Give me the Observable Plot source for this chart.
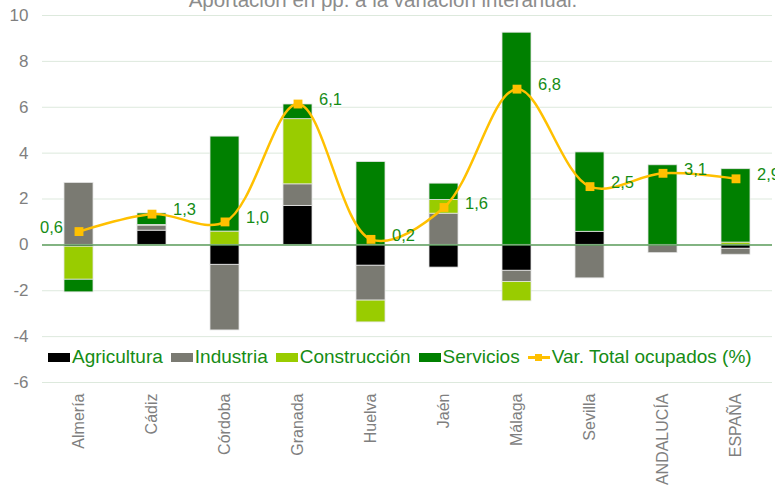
<!DOCTYPE html>
<html>
<head>
<meta charset="utf-8">
<script src="https://cdn.jsdelivr.net/npm/d3@7"></script>
<script src="https://cdn.jsdelivr.net/npm/@observablehq/plot@0.6"></script>
<style>
  html, body { margin: 0; padding: 0; background: #fff; }
  body { width: 775px; height: 487px; overflow: hidden; position: relative; font-family: "Liberation Sans", Arial, sans-serif; }
  #title { position: absolute; left: 0; top: -10px; width: 766px; text-align: center; font-size: 20.5px; color: #8c8c8c; line-height: 20px; z-index: 2; white-space: nowrap; }
  #legend { position: absolute; left: 48px; top: 346px; display: flex; align-items: center; font-size: 19px; color: #158c15; z-index: 2; white-space: nowrap; }
  #legend .item { display: flex; align-items: center; margin-right: 8px; }
  #legend .sw { width: 22px; height: 9px; margin-right: 2px; }
  #legend .ln { width: 22px; height: 9px; margin-right: 2px; position: relative; }
  #legend .ln::before { content: ""; position: absolute; left: 0; right: 0; top: 3px; height: 3px; background: #FFC000; }
  #legend .ln::after { content: ""; position: absolute; left: 7px; top: 1px; width: 7px; height: 7px; background: #FFC000; }
</style>
</head>
<body>
<div id="title">Aportación en pp. a la variación interanual.</div>
<div id="chart"></div>
<div id="legend"></div>
<script>
const categories = ["Almería", "Cádiz", "Córdoba", "Granada", "Huelva", "Jaén", "Málaga", "Sevilla", "ANDALUCÍA", "ESPAÑA"];
const sectors = ["Agricultura", "Industria", "Construcción", "Servicios"];
const agricultura  = [-0.08, 0.62, -0.87, 1.70, -0.91, -0.99, -1.13, 0.57, -0.02, -0.17];
const industria    = [ 2.70, 0.22, -2.86, 0.94, -1.52,  1.36, -0.49, -1.46, -0.34, -0.26];
const construccion = [-1.44, 0.03,  0.58, 2.84, -0.95,  0.60, -0.84,  0.00,  0.00,  0.10];
const servicios    = [-0.55, 0.50,  4.14, 0.64,  3.61,  0.71,  9.25,  3.46,  3.47,  3.20];
const varTotal     = [ 0.58, 1.34,  1.00, 6.14,  0.24,  1.63,  6.79,  2.54,  3.12,  2.88];
const yTicks = [-6, -4, -2, 0, 2, 4, 6, 8, 10];
const lineLabel = "Var. Total ocupados (%)";

const sectorColors = ["#000000", "#7a7a72", "#99cc00", "#008000"];
const seriesValues = [agricultura, industria, construccion, servicios];

const bars = [];
sectors.forEach((s, si) => {
  categories.forEach((c, ci) => {
    bars.push({ cat: c, sector: s, value: seriesValues[si][ci] });
  });
});
const totals = categories.map((c, i) => ({ cat: c, value: varTotal[i] }));
const fmt = v => d3.format(".1f")(v).replace(".", ",");
const green = "#158c15";
const font = "'Liberation Sans', Arial, sans-serif";

const chart = Plot.plot({
  width: 775,
  height: 487,
  marginTop: 15,
  marginBottom: 105,
  marginLeft: 42,
  marginRight: 3,
  style: { fontFamily: font, background: "white" },
  x: { domain: categories, paddingInner: 0.6, paddingOuter: 0.3, label: null },
  y: { domain: [-6, 10], label: null },
  color: { domain: sectors, range: sectorColors },
  marks: [
    Plot.ruleY(yTicks, { stroke: "#dde9dd", strokeWidth: 1 }),
    Plot.barY(bars, { x: "cat", y: "value", fill: "sector", stroke: "#e4e4e4", strokeWidth: 0.8 }),
    Plot.ruleY([0], { stroke: "#5e9e5e", strokeWidth: 1.5 }),
    Plot.line(totals, { x: "cat", y: "value", curve: "catmull-rom", stroke: "#FFC000", strokeWidth: 2.5 }),
    Plot.dot(totals, { x: "cat", y: "value", symbol: "square", r: 5, fill: "#FFC000", stroke: "none" }),
    Plot.text(totals, { filter: (d, i) => i > 0, x: "cat", y: "value", text: d => fmt(d.value), dx: 21, dy: -4, textAnchor: "start", fill: green, fontSize: 16.5 }),
    Plot.text(totals, { filter: (d, i) => i === 0, x: "cat", y: "value", text: d => fmt(d.value), dx: -16, dy: -4, textAnchor: "end", fill: green, fontSize: 16.5 }),
    Plot.axisY({ ticks: yTicks, tickSize: 0, tickPadding: 14, tickFormat: d => String(d), fontSize: 17, fill: "#7f7f7f", label: null }),
    Plot.axisX({ tickSize: 0, tickPadding: 11, tickRotate: -90, fontSize: 16, fill: "#7f7f7f", label: null })
  ]
});
document.getElementById("chart").appendChild(chart);

const legend = document.getElementById("legend");
sectors.forEach((s, i) => {
  const it = document.createElement("div");
  it.className = "item";
  const sw = document.createElement("span");
  sw.className = "sw";
  sw.style.background = sectorColors[i];
  it.appendChild(sw);
  it.appendChild(document.createTextNode(s));
  legend.appendChild(it);
});
const li = document.createElement("div");
li.className = "item";
const ln = document.createElement("span");
ln.className = "ln";
li.appendChild(ln);
li.appendChild(document.createTextNode(lineLabel));
legend.appendChild(li);
</script>
</body>
</html>
